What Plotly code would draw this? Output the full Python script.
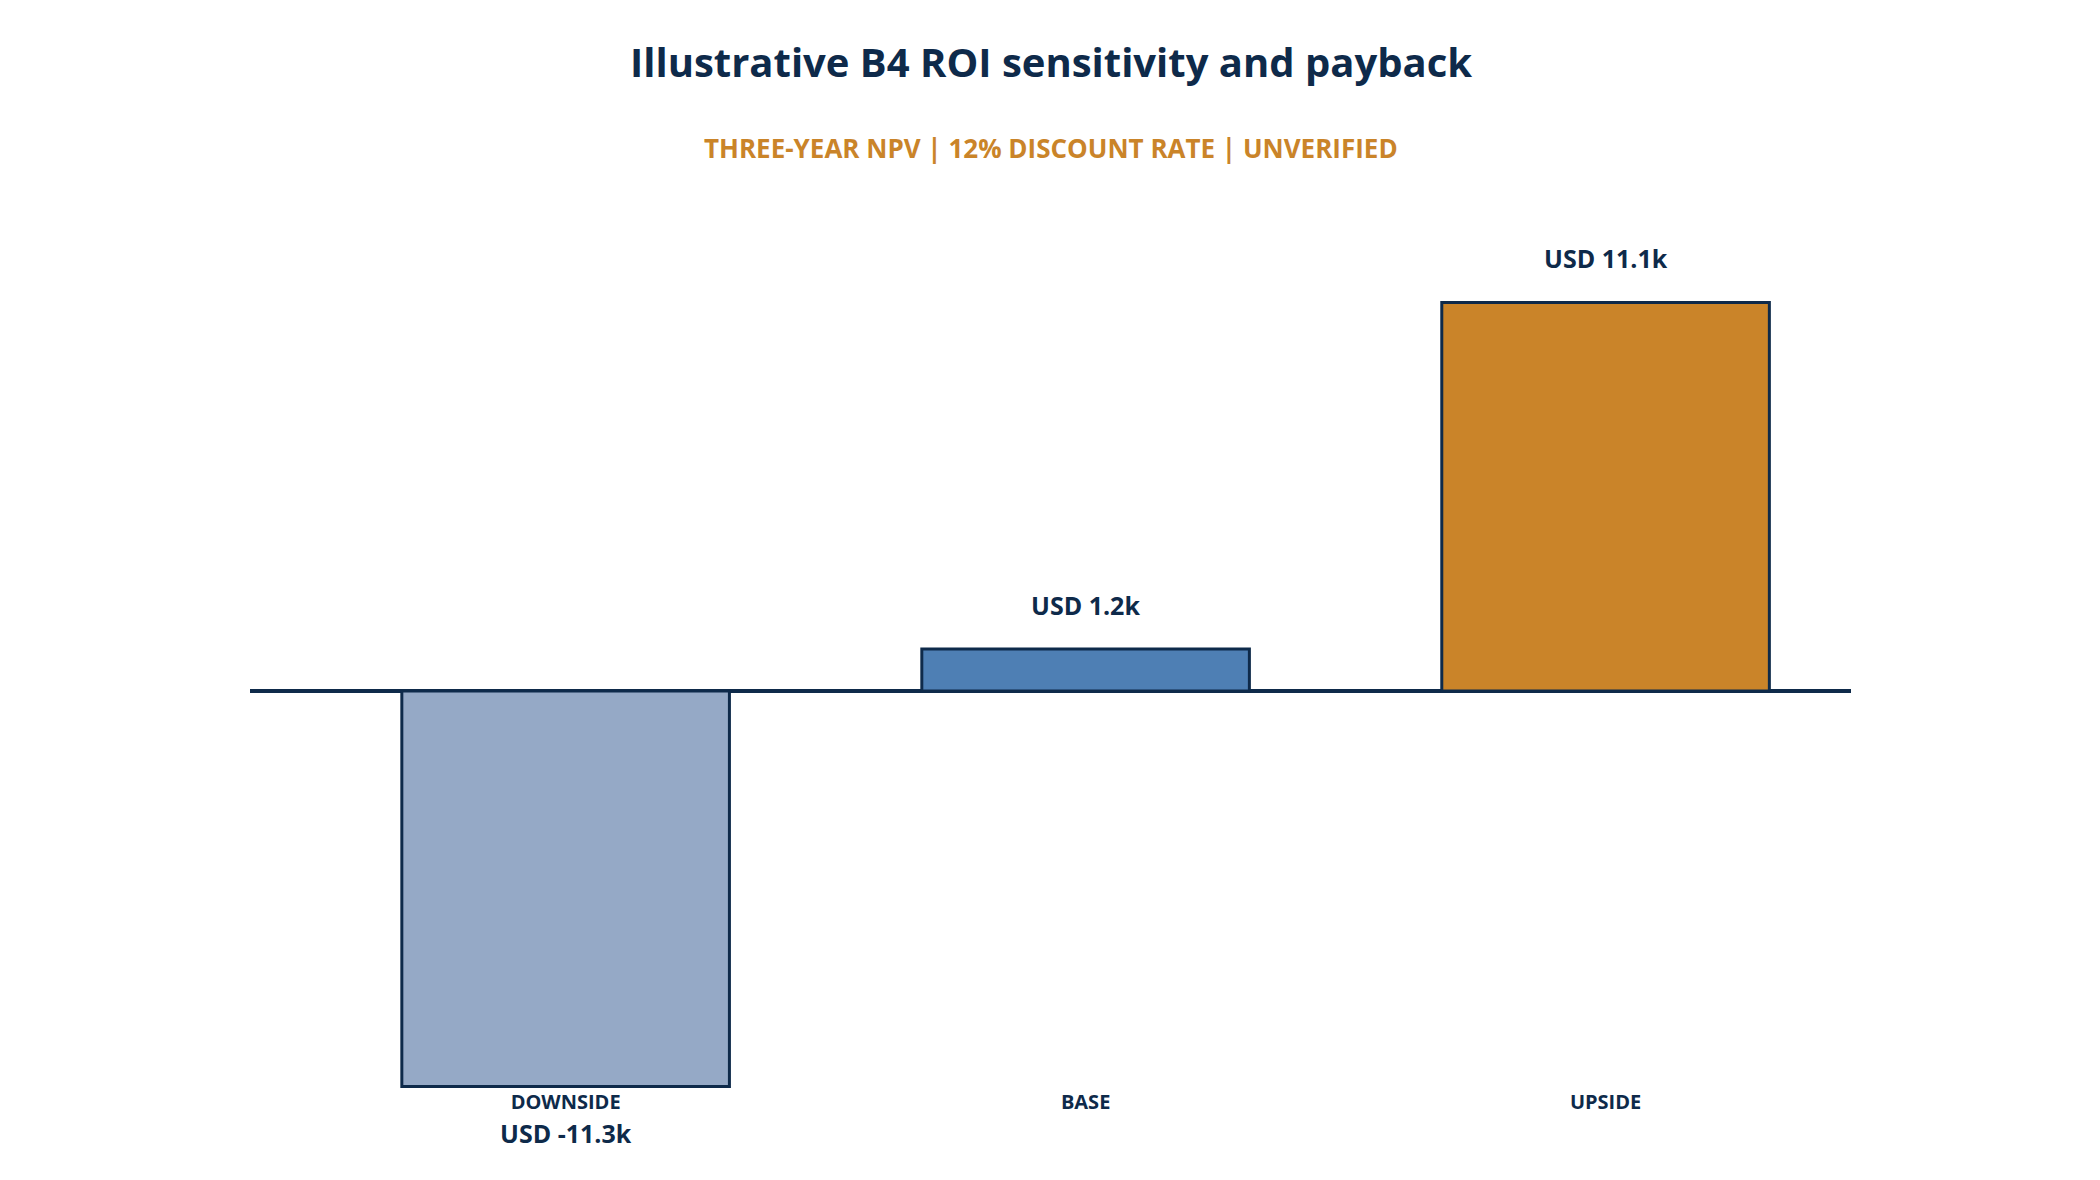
import plotly.graph_objects as go

# scenario NPV values, thousands of USD
scenarios = ["DOWNSIDE", "BASE", "UPSIDE"]
npv_k = [-11.3, 1.2, 11.1]
value_labels = ["USD -11.3k", "USD 1.2k", "USD 11.1k"]
bar_colors = ["#95A9C6", "#4E7FB4", "#CA8429"]

NAVY = "#0E2A4A"
AMBER = "#CA8429"
FONT = "Open Sans"

# plot area in page pixels (the page body adds an 8px offset)
PLOT_TOP, PLOT_BOTTOM = 230, 1088
OFF = 8

fig = go.Figure(go.Bar(
    x=scenarios,
    y=npv_k,
    width=0.63,
    marker={'color': bar_colors,
            'line': {'color': NAVY, 'width': 3}},
    hoverinfo="skip"))

# value labels above / below each bar
for cat, val, lab in zip(scenarios, npv_k, value_labels):
    fig.add_annotation(
        x=cat, y=val,
        text=lab,
        showarrow=False,
        yanchor="middle",
        yshift=44 if val >= 0 else -46,
        font={'family': FONT, 'size': 25, 'color': NAVY, 'weight': 700})


def paper_y(px):
    return (PLOT_BOTTOM - px) / (PLOT_BOTTOM - PLOT_TOP)


# title + subtitle
fig.add_annotation(
    xref="paper", yref="paper", x=0.5, y=paper_y(62),
    text="Illustrative B4 ROI sensitivity and payback",
    showarrow=False, yanchor="middle",
    font={'family': FONT, 'size': 40, 'color': NAVY, 'weight': 700})
fig.add_annotation(
    xref="paper", yref="paper", x=0.5, y=paper_y(148),
    text="THREE-YEAR NPV | 12% DISCOUNT RATE | UNVERIFIED",
    showarrow=False, yanchor="middle",
    font={'family': FONT, 'size': 26, 'color': AMBER, 'weight': 700})

fig.update_layout(
    width=2100, height=1180,
    showlegend=False,
    plot_bgcolor="white", paper_bgcolor="white",
    margin={'l': 250 - OFF, 'r': 249 + OFF, 't': PLOT_TOP - OFF, 'b': 1180 - PLOT_BOTTOM + OFF},
    xaxis={'range': [-0.607, 2.472],
           'showgrid': False, 'showline': False, 'ticks': "",
           'tickfont': {'family': FONT, 'size': 20, 'color': NAVY, 'weight': 700}},
    yaxis={'range': [-11.34, 13.17],
           'showgrid': False, 'showticklabels': False, 'showline': False,
           'zeroline': True, 'zerolinecolor': NAVY, 'zerolinewidth': 4})

fig.write_html("out.html")
